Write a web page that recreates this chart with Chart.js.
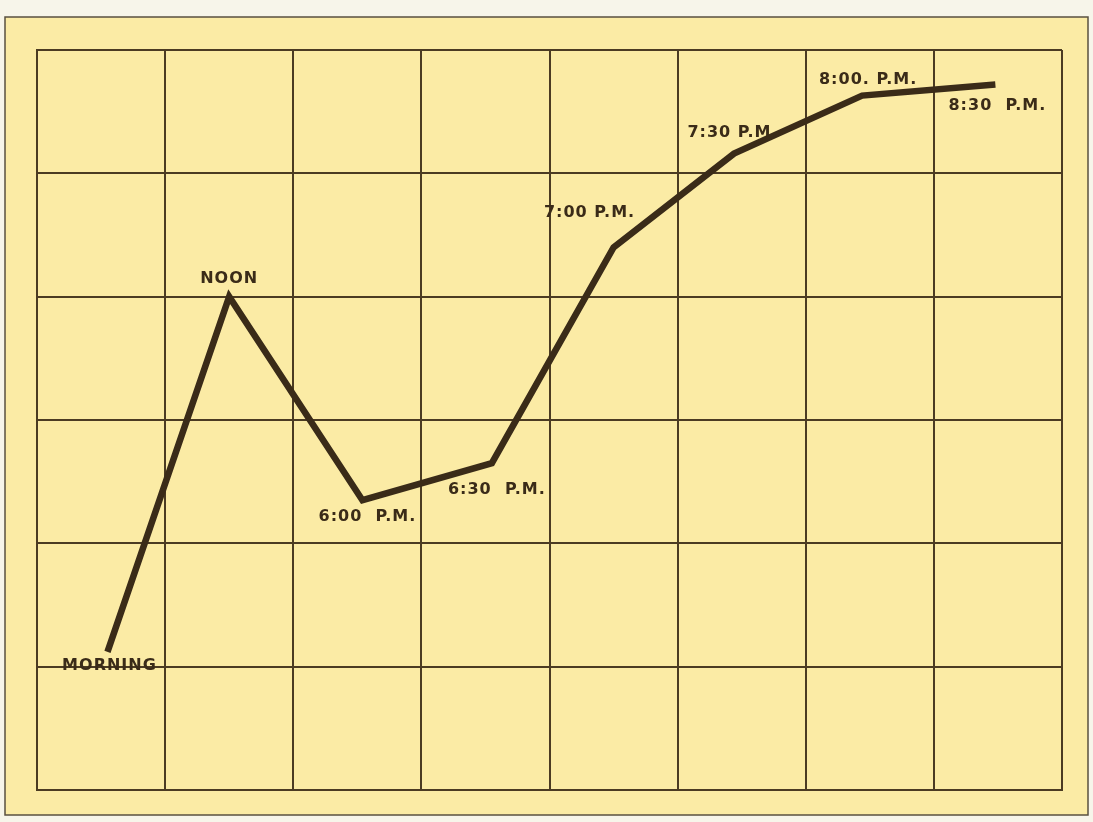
<!DOCTYPE html>
<html>
<head>
<meta charset="utf-8">
<script src="https://cdn.jsdelivr.net/npm/chart.js@4"></script>
<style>
  html, body { margin: 0; padding: 0; background: #f7f5ea; }
  #wrap { width: 1093px; height: 822px; position: relative; }
</style>
</head>
<body>
<div id="wrap"><canvas id="c" width="1093" height="822"></canvas></div>
<script>
// ---- data ----
const categories = ['MORNING', 'NOON', '6:00  P.M.', '6:30  P.M.', '7:00 P.M.', '7:30 P.M.', '8:00. P.M.', '8:30  P.M.'];
const xPositions = [0.55, 1.5, 2.54, 3.55, 4.5, 5.44, 6.44, 7.48];
const values = [1.12, 4.0, 2.35, 2.65, 4.4, 5.16, 5.63, 5.72];
const xTicks = [0, 1, 2, 3, 4, 5, 6, 7, 8];
const yTicks = [0, 1, 2, 3, 4, 5, 6];

const points = xPositions.map((x, i) => ({ x: x, y: values[i] }));

const GRID = '#4b3b22';
const INK = '#3a2b18';
const PAPER = '#fbeba5';

const panelPlugin = {
  id: 'panel',
  beforeDraw(chart) {
    const ctx = chart.ctx;
    ctx.save();
    ctx.fillStyle = PAPER;
    ctx.fillRect(5, 17, 1083, 798);
    ctx.strokeStyle = '#5a5040';
    ctx.lineWidth = 1.5;
    ctx.strokeRect(5, 17, 1083, 798);
    ctx.restore();
  }
};

const labelOffsets = [[2, 14], [0, -18], [5, 17], [5, 27], [-24, -34], [-1, -21], [6, -16], [2, 21]];

const labelPlugin = {
  id: 'pointLabels',
  afterDatasetsDraw(chart) {
    const ctx = chart.ctx;
    const meta = chart.getDatasetMeta(0);
    ctx.save();
    ctx.fillStyle = INK;
    ctx.font = 'bold 16px "DejaVu Sans", sans-serif';
    try { ctx.letterSpacing = '1px'; } catch (e) {}
    ctx.textAlign = 'center';
    ctx.textBaseline = 'middle';
    meta.data.forEach((el, i) => {
      const o = labelOffsets[i];
      ctx.fillText(categories[i], el.x + o[0], el.y + o[1]);
    });
    ctx.restore();
  }
};

new Chart(document.getElementById('c'), {
  type: 'line',
  data: {
    datasets: [{
      data: points,
      borderColor: INK,
      borderWidth: 6.5,
      pointRadius: 0,
      tension: 0,
      borderJoinStyle: 'miter',
      borderCapStyle: 'butt'
    }]
  },
  options: {
    responsive: false,
    animation: false,
    layout: { padding: { left: 37, right: 31, top: 50, bottom: 32 } },
    plugins: { legend: { display: false }, tooltip: { enabled: false } },
    scales: {
      x: {
        type: 'linear',
        min: xTicks[0],
        max: xTicks[xTicks.length - 1],
        afterBuildTicks: (axis) => { axis.ticks = xTicks.map(v => ({ value: v })); },
        ticks: { display: false },
        grid: { color: GRID, lineWidth: 2, drawTicks: false },
        border: { display: true, color: GRID, width: 2 }
      },
      y: {
        type: 'linear',
        min: yTicks[0],
        max: yTicks[yTicks.length - 1],
        afterBuildTicks: (axis) => { axis.ticks = yTicks.map(v => ({ value: v })); },
        ticks: { display: false },
        grid: { color: GRID, lineWidth: 2, drawTicks: false },
        border: { display: true, color: GRID, width: 2 }
      }
    }
  },
  plugins: [panelPlugin, labelPlugin]
});
</script>
</body>
</html>
